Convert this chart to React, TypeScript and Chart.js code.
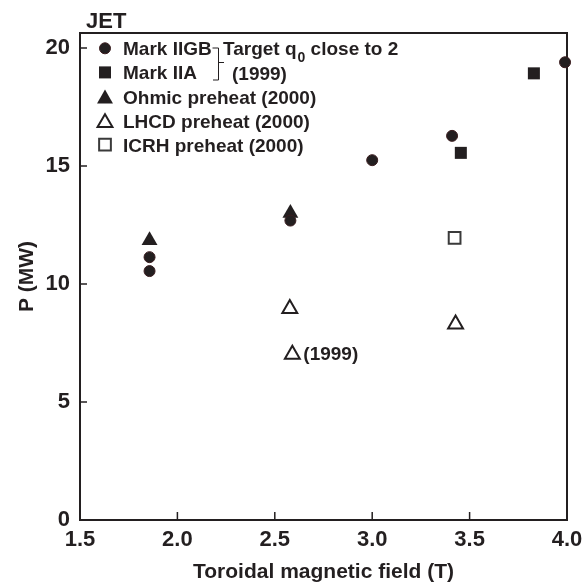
import React, { useEffect, useRef } from 'react';
import { Chart, registerables } from 'chart.js';
import { drawPoint } from 'chart.js/helpers';

Chart.register(...registerables);

// ---- data ----
const xTickValues = [1.5, 2.0, 2.5, 3.0, 3.5, 4.0];
const yTickValues = [0, 5, 10, 15, 20];

const markIIGB_B = [1.857, 1.857, 2.58, 3.0, 3.41, 3.99];
const markIIGB_P = [11.14, 10.55, 12.69, 15.25, 16.28, 19.4];

const markIIA_B = [3.455, 3.83];
const markIIA_P = [15.56, 18.93];

const ohmic_B = [1.857, 2.58];
const ohmic_P = [11.85, 13.0];

const lhcd_B = [2.577, 3.428, 2.59];
const lhcd_P = [8.96, 8.3, 7.02];

const icrh_B = [3.423];
const icrh_P = [11.96];

const seriesLabels = [
  'Mark IIGB',
  'Mark IIA',
  'Ohmic preheat (2000)',
  'LHCD preheat (2000)',
  'ICRH preheat (2000)',
];

const chartTitle = 'JET';
const xTitle = 'Toroidal magnetic field (T)';
const yTitle = 'P (MW)';
const bracketText1 = 'Target q';
const bracketSub = '0';
const bracketText2 = ' close to 2';
const bracketText3 = '(1999)';
const noteText = '(1999)';
const noteIndex = 2; // LHCD point annotated with (1999)

const INK = '#231f20';
const FONT = "'Liberation Sans', Arial, sans-serif";

const pts = (xs: number[], ys: number[]) => xs.map((x, i) => ({ x, y: ys[i] }));

const decorPlugin = {
  id: 'decor',
  beforeDatasetsDraw(chart: any) {
    const { ctx, chartArea: a, scales } = chart;
    ctx.save();
    // inward tick marks
    ctx.strokeStyle = INK;
    ctx.lineWidth = 1.5;
    ctx.beginPath();
    scales.x.ticks.forEach((t: any) => {
      const px = scales.x.getPixelForValue(t.value);
      ctx.moveTo(px, a.bottom);
      ctx.lineTo(px, a.bottom - 8);
    });
    scales.y.ticks.forEach((t: any) => {
      const py = scales.y.getPixelForValue(t.value);
      ctx.moveTo(a.left, py);
      ctx.lineTo(a.left + 7, py);
    });
    ctx.stroke();
    // frame
    ctx.lineWidth = 2;
    ctx.strokeRect(a.left, a.top, a.right - a.left, a.bottom - a.top);
    ctx.restore();
  },
  afterDraw(chart: any) {
    const { ctx, scales } = chart;
    ctx.save();
    ctx.fillStyle = INK;
    ctx.textBaseline = 'alphabetic';
    ctx.textAlign = 'left';
    // title
    ctx.font = `bold 22px ${FONT}`;
    ctx.fillText(chartTitle, 86, 28);

    // legend
    const mx = 105;
    const tx = 123;
    chart.data.datasets.forEach((ds: any, i: number) => {
      const cy = 48.3 + i * 24.1;
      const tri = ds.pointStyle === 'triangle';
      const r = ds.pointRadius;
      ctx.save();
      ctx.fillStyle = ds.backgroundColor;
      ctx.strokeStyle = ds.borderColor;
      ctx.lineWidth = ds.borderWidth;
      drawPoint(ctx, { pointStyle: ds.pointStyle, radius: r, rotation: 0, borderWidth: ds.borderWidth }, mx, cy + (tri ? r * 0.25 : 0));
      ctx.restore();
      ctx.font = `bold 19px ${FONT}`;
      ctx.fillText(ds.label, tx, cy + 7);
    });

    // bracket
    ctx.strokeStyle = INK;
    ctx.lineWidth = 1;
    ctx.beginPath();
    ctx.moveTo(212.5, 48);
    ctx.lineTo(218.5, 48);
    ctx.lineTo(218.5, 80);
    ctx.lineTo(213, 80);
    ctx.moveTo(218.5, 62.5);
    ctx.lineTo(224, 62.5);
    ctx.stroke();

    ctx.font = `bold 19px ${FONT}`;
    let x = 223;
    ctx.fillText(bracketText1, x, 55.3);
    x += ctx.measureText(bracketText1).width + 1;
    ctx.font = `bold 14px ${FONT}`;
    ctx.fillText(bracketSub, x, 62);
    x += ctx.measureText(bracketSub).width;
    ctx.font = `bold 19px ${FONT}`;
    ctx.fillText(bracketText2, x, 55.3);
    ctx.fillText(bracketText3, 232, 80);

    // (1999) annotation next to LHCD point
    const px = scales.x.getPixelForValue(lhcd_B[noteIndex]);
    const py = scales.y.getPixelForValue(lhcd_P[noteIndex]);
    ctx.fillText(noteText, px + 11, py + 6);
    ctx.restore();
  },
};

export default function App() {
  const ref = useRef<HTMLCanvasElement | null>(null);
  useEffect(() => {
    if (!ref.current) return;
    const base = { showLine: false, clip: false as any };
    const chart = new Chart(ref.current, {
      type: 'scatter',
      data: {
        datasets: [
          { ...base, label: seriesLabels[0], data: pts(markIIGB_B, markIIGB_P), pointStyle: 'circle', pointRadius: 5.5, backgroundColor: INK, borderColor: '#3b1d1f', borderWidth: 1 },
          { ...base, label: seriesLabels[1], data: pts(markIIA_B, markIIA_P), pointStyle: 'rect', pointRadius: 8.5, backgroundColor: INK, borderColor: INK, borderWidth: 0 },
          { ...base, label: seriesLabels[2], data: pts(ohmic_B, ohmic_P), pointStyle: 'triangle', pointRadius: 9.2, backgroundColor: INK, borderColor: INK, borderWidth: 0 },
          { ...base, label: seriesLabels[3], data: pts(lhcd_B, lhcd_P), pointStyle: 'triangle', pointRadius: 8.6, backgroundColor: '#ffffff', borderColor: INK, borderWidth: 2 },
          { ...base, label: seriesLabels[4], data: pts(icrh_B, icrh_P), pointStyle: 'rect', pointRadius: 8.3, backgroundColor: '#ffffff', borderColor: '#3a3a3a', borderWidth: 2 },
        ] as any,
      },
      options: {
        animation: false,
        responsive: false,
        layout: { padding: { left: 0, top: 33, right: 15, bottom: 0 } },
        plugins: { legend: { display: false }, tooltip: { enabled: false }, title: { display: false } },
        scales: {
          x: {
            type: 'linear',
            min: xTickValues[0],
            max: xTickValues[xTickValues.length - 1],
            grid: { display: false, drawTicks: false },
            border: { display: false },
            afterBuildTicks: (s: any) => { s.ticks = xTickValues.map((v) => ({ value: v })); },
            afterFit: (s: any) => { s.height = 68; s.paddingLeft = 0; s.paddingRight = 0; },
            ticks: {
              padding: 7,
              color: INK,
              font: { family: FONT, size: 22, weight: 'bold' },
              maxRotation: 0,
              callback: (v: any) => Number(v).toFixed(1),
            },
            title: { display: true, text: xTitle, color: INK, font: { family: FONT, size: 21, weight: 'bold' }, padding: { top: 0, bottom: 3 } },
          },
          y: {
            type: 'linear',
            min: 0,
            max: 20.64,
            grid: { display: false, drawTicks: false },
            border: { display: false },
            afterBuildTicks: (s: any) => { s.ticks = yTickValues.map((v) => ({ value: v })); },
            afterFit: (s: any) => { s.width = 80; s.paddingTop = 0; s.paddingBottom = 0; },
            ticks: {
              padding: 10,
              color: INK,
              font: { family: FONT, size: 22, weight: 'bold' },
              callback: (v: any) => String(v),
            },
            title: { display: true, text: yTitle, color: INK, font: { family: FONT, size: 21, weight: 'bold' }, padding: { top: 15, bottom: 0 } },
          },
        },
      } as any,
      plugins: [decorPlugin],
    });
    return () => chart.destroy();
  }, []);
  return (
    <div style={{ position: 'absolute', left: 0, top: 0, width: 582, height: 588, background: '#ffffff' }}>
      <canvas ref={ref} width={582} height={588} style={{ display: 'block' }} />
    </div>
  );
}
